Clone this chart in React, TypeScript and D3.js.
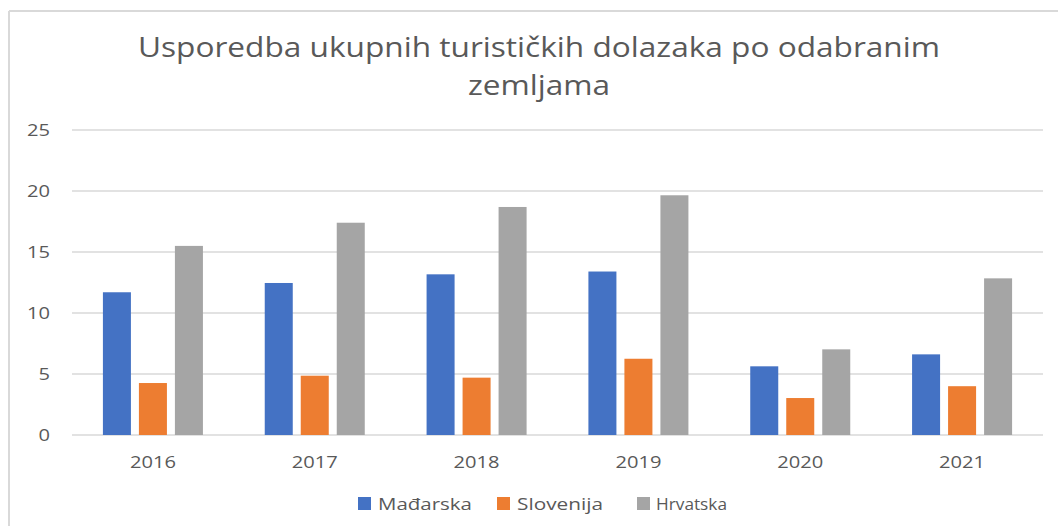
import React from "react";
import * as d3 from "d3";

const years = ["2016", "2017", "2018", "2019", "2020", "2021"];
const seriesNames = ["Mađarska", "Slovenija", "Hrvatska"];
const madarska = [11.7, 12.46, 13.17, 13.4, 5.63, 6.61];
const slovenija = [4.26, 4.86, 4.7, 6.25, 3.03, 4.0];
const hrvatska = [15.5, 17.4, 18.69, 19.65, 7.02, 12.84];
const yTicks = [0, 5, 10, 15, 20, 25];
const colors = ["#4472C4", "#ED7D31", "#A5A5A5"];
const titleLines = ["Usporedba ukupnih turističkih dolazaka po odabranim", "zemljama"];

const W = 1058;
const H = 526;
const FONT = "'Open Sans', 'Noto Sans', sans-serif";
const TXT = "#595959";

export default function App() {
  const values = [madarska, slovenija, hrvatska];
  const x0 = d3
    .scaleBand<string>()
    .domain(years)
    .range([72, 1043])
    .paddingInner(0.382)
    .paddingOuter(0.191);
  const x1 = d3
    .scaleBand<string>()
    .domain(seriesNames)
    .range([0, x0.bandwidth()])
    .paddingInner(0.222);
  const y = d3.scaleLinear().domain([0, 25]).range([435, 130]);

  const legendItems = [
    { name: seriesNames[0], sx: 358, tx: 378, tw: 94 },
    { name: seriesNames[1], sx: 497, tx: 517, tw: 86 },
    { name: seriesNames[2], sx: 637, tx: 656, tw: 71 },
  ];

  return (
    <div>
      <style>{`body{margin:0;}`}</style>
      <svg width={W} height={H} style={{ display: "block", background: "#fff" }}>
        <rect x={0} y={0} width={W} height={H} fill="#fff" />
        {/* chart border */}
        <line x1={9} x2={W} y1={11} y2={11} stroke="#d9d9d9" strokeWidth={2} />
        <line x1={9} x2={9} y1={11} y2={H} stroke="#d9d9d9" strokeWidth={2} />

        {/* title */}
        <text
          x={539}
          y={57}
          textAnchor="middle"
          fontFamily={FONT}
          fontSize={26.5}
          fill={TXT}
          textLength={802}
          lengthAdjust="spacingAndGlyphs"
        >
          {titleLines[0]}
        </text>
        <text
          x={539}
          y={95}
          textAnchor="middle"
          fontFamily={FONT}
          fontSize={26.5}
          fill={TXT}
          textLength={142}
          lengthAdjust="spacingAndGlyphs"
        >
          {titleLines[1]}
        </text>

        {/* grid */}
        {yTicks.map((t) => (
          <g key={t}>
            <line x1={72} x2={1043} y1={y(t)} y2={y(t)} stroke="#d9d9d9" strokeWidth={1.5} />
            <text
              x={50}
              y={y(t)}
              dy="0.35em"
              textAnchor="end"
              fontFamily={FONT}
              fontSize={16.5}
              fill={TXT}
              textLength={String(t).length * 11.5}
              lengthAdjust="spacingAndGlyphs"
            >
              {t}
            </text>
          </g>
        ))}

        {/* bars */}
        {years.map((yr, i) => (
          <g key={yr} transform={`translate(${x0(yr)},0)`}>
            {seriesNames.map((s, j) => (
              <rect
                key={s}
                x={x1(s)}
                y={y(values[j][i])}
                width={x1.bandwidth()}
                height={y(0) - y(values[j][i])}
                fill={colors[j]}
              />
            ))}
          </g>
        ))}

        {/* x labels */}
        {years.map((yr) => (
          <text
            key={yr}
            x={(x0(yr) as number) + x0.bandwidth() / 2}
            y={462}
            dy="0.35em"
            textAnchor="middle"
            fontFamily={FONT}
            fontSize={16.5}
            fill={TXT}
            textLength={46}
            lengthAdjust="spacingAndGlyphs"
          >
            {yr}
          </text>
        ))}

        {/* legend */}
        {legendItems.map((it, j) => (
          <g key={it.name}>
            <rect x={it.sx} y={497} width={13} height={13} fill={colors[j]} />
            <text
              x={it.tx}
              y={504}
              dy="0.35em"
              fontFamily={FONT}
              fontSize={17}
              fill={TXT}
              textLength={it.tw}
              lengthAdjust="spacingAndGlyphs"
            >
              {it.name}
            </text>
          </g>
        ))}
      </svg>
    </div>
  );
}
